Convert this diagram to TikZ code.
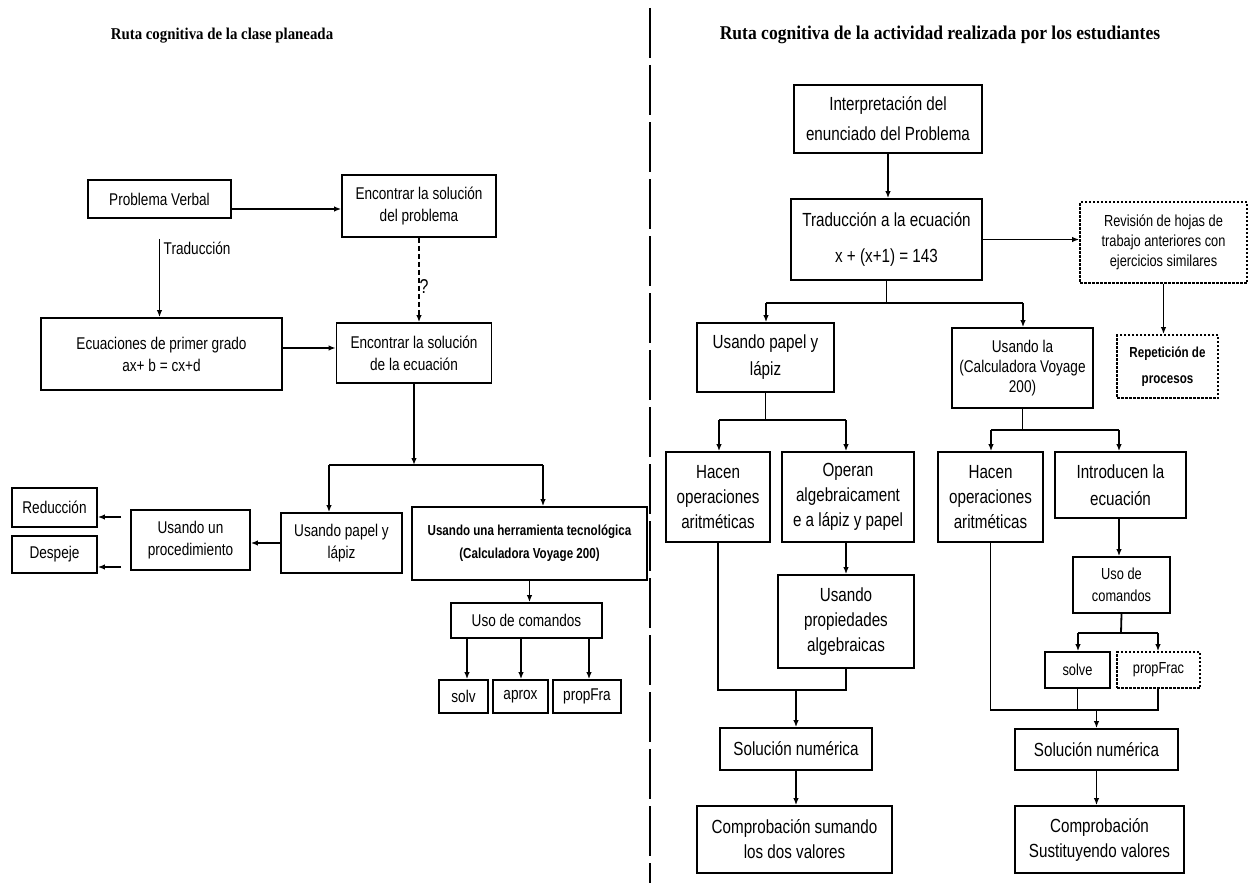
\documentclass[tikz,border=0pt]{standalone}
\usepackage{fontspec}
\setmainfont{Liberation Sans}[FakeStretch=0.8]
\newfontfamily\tfont{Liberation Serif}[FakeStretch=0.9]
\usetikzlibrary{arrows.meta}
\newcommand{\fs}[2]{\fontsize{#1}{#2}\selectfont}
\tikzset{
  box/.style={draw, line width=1.7pt, align=center, inner sep=1pt},
  dbox/.style={box, dash pattern=on 2.5pt off 1.5pt},
  arr/.style={line width=1.8pt, -{Latex[length=7pt,width=5.5pt]}},
  ln/.style={line width=1.8pt},
  ttl/.style={font=\tfont\bfseries\fs{16.5}{18}},
  f19/.style={font=\fs{19}{25}},
  f17/.style={font=\fs{17}{22}},
  f16/.style={font=\fs{16}{20}},
}
\begin{document}
\begin{tikzpicture}[x=1pt,y=-1pt]
\useasboundingbox[fill=white] (0,0) rectangle (1256,883);
% divider
\coordinate (dv1) at (650,8);
\coordinate (dv2) at (650,883);
\draw[line width=2.2pt, dash pattern=on 50pt off 7pt] (dv1) -- (dv2);

% ---------------- left ----------------
\node[ttl] (tL) at (222,36) {Ruta cognitiva de la clase planeada};
\node[box,f17,minimum width=143pt,minimum height=38pt] (pv) at (159.5,199) {Problema Verbal};
\node[box,f17,minimum width=154pt,minimum height=62pt] (es) at (419,206) {Encontrar la solución\\del problema};
\node[box,f17,minimum width=241pt,minimum height=72pt] (ec) at (161.5,354) {Ecuaciones de primer grado\\ax+ b = cx+d};
\node[box,f17,minimum width=155pt,minimum height=60pt] (ese) at (414,353) {Encontrar la solución\\de la ecuación};
\node[box,f17,minimum width=121pt,minimum height=60pt] (pap) at (341.5,543) {Usando papel y\\lápiz};
\node[box,font=\bfseries\fs{14.5}{23},minimum width=235pt,minimum height=73pt] (herr) at (529.5,543.5) {Usando una herramienta tecnológica\\(Calculadora Voyage 200)};
\node[box,f17,minimum width=119pt,minimum height=60pt] (proc) at (190.5,540) {Usando un\\procedimiento};
\node[box,f17,minimum width=85pt,minimum height=39pt] (red) at (54.5,507.5) {Reducción};
\node[box,f17,minimum width=85pt,minimum height=37pt] (des) at (54.5,554.5) {Despeje};
\node[box,f17,minimum width=151pt,minimum height=35pt] (uso) at (526.5,620.5) {Uso de comandos};
\node[box,f17,minimum width=49pt,minimum height=33pt] (solv) at (463.5,696.5) {solv};
\node[box,f17,minimum width=55pt,minimum height=33pt] (aprox) at (520.5,696.5) {aprox};
\node[box,f17,minimum width=68pt,minimum height=33pt] (pfra) at (587,696.5) {propFra};

\coordinate (a1) at ([yshift=-10pt]pv.east);
\draw[arr] (a1) -- (a1 -| es.west);
\draw[arr,shorten <=20pt] (pv.south) -- (pv.south |- ec.north) node[pos=0.3,right,f17] (lt) {Traducción};
\draw[arr,dash pattern=on 5pt off 3pt] (es.south) -- (es.south |- ese.north);
\node[font=\fs{20}{22}] (q) at (424,287) {?};
\coordinate (a2) at ([yshift=6pt]ec.east);
\draw[arr] (a2) -- (a2 -| ese.west);
\coordinate (j1) at (414,465);
\coordinate (jL) at (329,465);
\coordinate (jR) at (543,465);
\draw[arr] (ese.south) -- (j1);
\draw[ln] (jL) -- (jR);
\draw[arr] (jL) -- (jL |- pap.north);
\draw[arr] (jR) -- (jR |- herr.north);
\draw[arr] (pap.west) -- (pap.west -| proc.east);
\coordinate (p1) at ([yshift=23pt]proc.west);
\coordinate (p2) at ([yshift=-27pt]proc.west);
\draw[arr,shorten <=9pt] (p1) -- (p1 -| red.east);
\draw[arr,shorten <=9pt] (p2) -- (p2 -| des.east);
\draw[arr] (herr.south) -- (herr.south |- uso.north);
\coordinate (u1) at (467,638);
\coordinate (u2) at (521,638);
\coordinate (u3) at (589,638);
\draw[arr] (u1) -- (u1 |- solv.north);
\draw[arr] (u2) -- (u2 |- aprox.north);
\draw[arr] (u3) -- (u3 |- pfra.north);

% ---------------- right ----------------
\node[ttl,font=\tfont\bfseries\fs{19.5}{21}] (tR) at (940,35) {Ruta cognitiva de la actividad realizada por los estudiantes};
\node[box,font=\fs{19}{30},minimum width=188pt,minimum height=68pt] (int) at (888,119) {Interpretación del\\enunciado del Problema};
\node[box,font=\fs{19}{36},minimum width=191pt,minimum height=81pt] (tra) at (886.5,239.5) {Traducción a la ecuación\\x + (x+1) = 143};
\node[dbox,font=\fs{16}{20},minimum width=167pt,minimum height=81pt] (rev) at (1163.5,242.5) {Revisión de hojas de\\trabajo anteriores con\\ejercicios similares};
\node[dbox,font=\bfseries\fs{14.5}{26},minimum width=101pt,minimum height=63pt] (rep) at (1167.5,366.5) {Repetición de\\procesos};
\node[box,font=\fs{19}{27},minimum width=137pt,minimum height=69pt] (papR) at (765.5,357.5) {Usando papel y\\lápiz};
\node[box,font=\fs{17}{20},minimum width=141pt,minimum height=80pt] (calc) at (1022.5,368) {Usando la\\(Calculadora Voyage\\200)};
\node[box,f19,minimum width=104pt,minimum height=90pt] (hac1) at (718,497) {Hacen\\operaciones\\aritméticas};
\node[box,f19,minimum width=132pt,minimum height=90pt] (ope) at (848,497) {Operan\\algebraicament\\e a lápiz y papel};
\node[box,f19,minimum width=136pt,minimum height=93pt] (prop) at (846,621.5) {Usando\\propiedades\\algebraicas};
\node[box,f19,minimum width=105pt,minimum height=90pt] (hac2) at (990.5,497) {Hacen\\operaciones\\aritméticas};
\node[box,font=\fs{19}{27},minimum width=131pt,minimum height=66pt] (intr) at (1120.5,485) {Introducen la\\ecuación};
\node[box,font=\fs{16}{22},minimum width=97pt,minimum height=56pt] (usoR) at (1121.5,585) {Uso de\\comandos};
\node[box,f16,minimum width=65pt,minimum height=36pt] (solve) at (1077.5,670) {solve};
\node[dbox,f16,minimum width=83pt,minimum height=36pt] (pfrac) at (1158.5,670) {propFrac};
\node[box,f19,minimum width=152pt,minimum height=42pt] (sol1) at (796,749) {Solución numérica};
\node[box,f19,minimum width=195pt,minimum height=67pt] (com1) at (794.5,839.5) {Comprobación sumando\\los dos valores};
\node[box,f19,minimum width=163pt,minimum height=41pt] (sol2) at (1096.5,749.5) {Solución numérica};
\node[box,f19,minimum width=169pt,minimum height=67pt] (com2) at (1099.5,839.5) {Comprobación\\Sustituyendo valores};

\draw[arr] (int.south) -- (int.south |- tra.north);
\draw[arr] (tra.east) -- (tra.east -| rev.west);
\draw[arr] (rev.south) -- (rev.south |- rep.north);
\coordinate (jT) at (886.5,303);
\coordinate (jTa) at (766,303);
\coordinate (jTb) at (1023,303);
\draw[ln] (tra.south) -- (jT);
\draw[ln] (jTa) -- (jTb);
\draw[arr] (jTa) -- (jTa |- papR.north);
\draw[arr] (jTb) -- (jTb |- calc.north);
\coordinate (jP) at (765.5,420);
\coordinate (jPa) at (719,420);
\coordinate (jPb) at (846,420);
\draw[ln] (papR.south) -- (jP);
\draw[ln] (jPa) -- (jPb);
\draw[arr] (jPa) -- (jPa |- hac1.north);
\draw[arr] (jPb) -- (jPb |- ope.north);
\draw[arr] (ope.south -| jPb) -- (jPb |- prop.north);
\coordinate (jB1b) at (846,690);
\coordinate (jB1) at (796,690);
\draw[ln] (hac1.south) |- (jB1b) -- (prop.south -| jB1b);
\draw[arr] (jB1) -- (sol1.north);
\coordinate (jC) at (1022.5,430);
\coordinate (jCa) at (991,430);
\coordinate (jCb) at (1119,430);
\draw[ln] (calc.south) -- (jC);
\draw[ln] (jCa) -- (jCb);
\draw[arr] (jCa) -- (jCa |- hac2.north);
\draw[arr] (jCb) -- (jCb |- intr.north);
\draw[arr] (intr.south -| jCb) -- (jCb |- usoR.north);
\coordinate (jU) at (1121,633);
\coordinate (jUa) at (1078,633);
\coordinate (jUb) at (1158,633);
\draw[ln] (usoR.south) -- (jU);
\draw[ln] (jUa) -- (jUb);
\draw[arr] (jUa) -- (jUa |- solve.north);
\draw[arr] (jUb) -- (jUb |- pfrac.north);
\coordinate (jB2b) at (1158,710);
\coordinate (jB2) at (1096.5,710);
\draw[ln] (hac2.south) |- (jB2b) -- (pfrac.south -| jB2b);
\draw[ln] (solve.south) -- (solve.south |- jB2b);
\draw[arr] (jB2) -- (sol2.north);
\draw[arr] (sol1.south) -- (sol1.south |- com1.north);
\draw[arr] (sol2.south) -- (sol2.south |- com2.north);
\end{tikzpicture}
\end{document}
